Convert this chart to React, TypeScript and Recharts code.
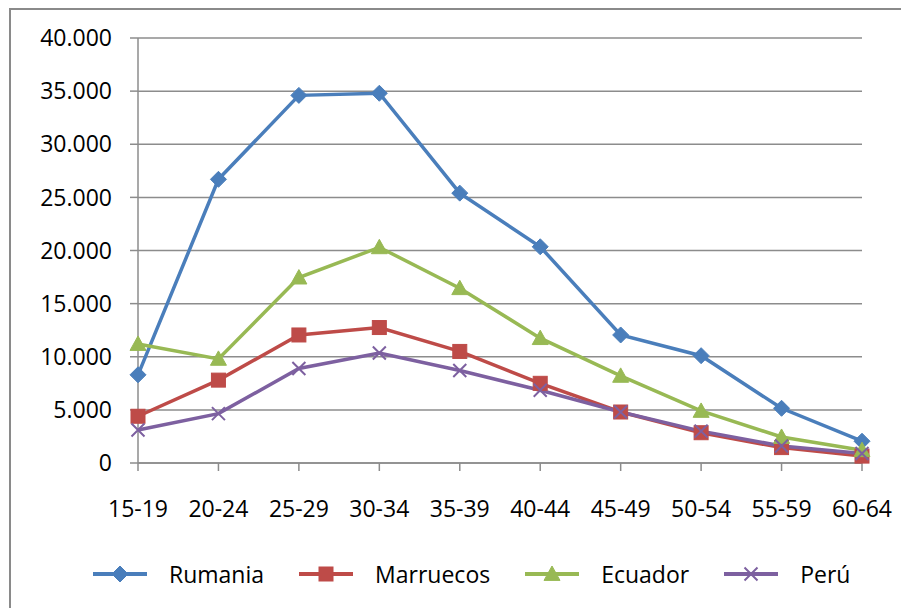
import React from 'react';
import { LineChart, Line, XAxis, YAxis, CartesianGrid, Legend } from 'recharts';

const categories = ['15-19', '20-24', '25-29', '30-34', '35-39', '40-44', '45-49', '50-54', '55-59', '60-64'];
const rumania = [8300, 26700, 34600, 34800, 25400, 20350, 12050, 10100, 5150, 2050];
const marruecos = [4400, 7800, 12050, 12750, 10500, 7500, 4800, 2850, 1450, 650];
const ecuador = [11200, 9800, 17450, 20300, 16450, 11750, 8200, 4900, 2450, 1200];
const peru = [3100, 4650, 8900, 10350, 8700, 6850, 4800, 3000, 1600, 900];
const yTicks = [0, 5000, 10000, 15000, 20000, 25000, 30000, 35000, 40000];

const seriesNames = ['Rumania', 'Marruecos', 'Ecuador', 'Perú'];
const seriesColors = ['#4A7EBB', '#BE4B48', '#98B954', '#7D60A0'];
const seriesShapes = ['diamond', 'square', 'triangle', 'cross'];

const data = categories.map((c, i) => ({
  cat: c,
  Rumania: rumania[i],
  Marruecos: marruecos[i],
  Ecuador: ecuador[i],
  'Perú': peru[i],
}));

const FONT = '"Open Sans", "Noto Sans", sans-serif';

function Marker({ shape, cx, cy, color }: { shape: string; cx: number; cy: number; color: string }) {
  if (cx == null || cy == null || isNaN(cx) || isNaN(cy)) return null;
  if (shape === 'diamond') {
    const r = 8;
    return <path d={`M${cx},${cy - r}L${cx + r},${cy}L${cx},${cy + r}L${cx - r},${cy}Z`} fill={color} stroke={color} strokeWidth={1} />;
  }
  if (shape === 'square') {
    const r = 7;
    return <rect x={cx - r} y={cy - r} width={2 * r} height={2 * r} fill={color} stroke={color} strokeWidth={1} />;
  }
  if (shape === 'triangle') {
    const r = 8;
    return <path d={`M${cx},${cy - r}L${cx + r},${cy + r * 0.8}L${cx - r},${cy + r * 0.8}Z`} fill={color} stroke={color} strokeWidth={1} />;
  }
  const r = 6.5;
  return (
    <path d={`M${cx - r},${cy - r}L${cx + r},${cy + r}M${cx + r},${cy - r}L${cx - r},${cy + r}`} stroke={color} strokeWidth={2} fill="none" />
  );
}

const fmt = (v: number) => (v === 0 ? '0' : v.toLocaleString('de-DE'));

function LegendContent() {
  return (
    <div style={{ display: 'flex', alignItems: 'center', fontFamily: FONT, fontSize: 23, color: '#000' }}>
      {seriesNames.map((n, i) => (
        <div key={n} style={{ display: 'flex', alignItems: 'center', marginRight: 35 }}>
          <svg width={54} height={24} style={{ display: 'block' }}>
            <line x1={0} y1={12} x2={54} y2={12} stroke={seriesColors[i]} strokeWidth={4} />
            <Marker shape={seriesShapes[i]} cx={27} cy={12} color={seriesColors[i]} />
          </svg>
          <span style={{ marginLeft: 22, lineHeight: '30px' }}>{n}</span>
        </div>
      ))}
    </div>
  );
}

export default function App() {
  return (
    <div style={{ position: 'relative', width: 901, height: 600, overflow: 'hidden', background: '#fff' }}>
      <div
        style={{
          position: 'absolute',
          left: 1,
          top: 0,
          width: 1000,
          height: 700,
          borderLeft: '2px solid #8a8a8a',
          borderTop: '2px solid #8a8a8a',
          boxSizing: 'border-box',
        }}
      />
      <div style={{ position: 'absolute', left: 0, top: 0 }}>
        <LineChart width={901} height={600} data={data} margin={{ top: 30, right: 47, left: 10, bottom: 0 }}>
          <CartesianGrid vertical={false} stroke="#8c8c8c" strokeWidth={1.5} />
          <XAxis
            dataKey="cat"
            axisLine={{ stroke: '#8c8c8c', strokeWidth: 1.5 }}
            tickLine={{ stroke: '#8c8c8c', strokeWidth: 1.5 }}
            tickSize={8}
            tickMargin={30}
            height={115}
            interval={0}
            tick={{ fontFamily: FONT, fontSize: 23, fill: '#000' }}
          />
          <YAxis
            domain={[0, 40000]}
            ticks={yTicks}
            tickFormatter={fmt}
            width={120}
            axisLine={{ stroke: '#8c8c8c', strokeWidth: 1.5 }}
            tickLine={{ stroke: '#8c8c8c', strokeWidth: 1.5 }}
            tickSize={8}
            tickMargin={18}
            interval={0}
            tick={{ fontFamily: FONT, fontSize: 23, fill: '#000' }}
          />
          <Legend
            content={<LegendContent />}
            wrapperStyle={{ position: 'absolute', top: 551, left: 85, width: 800 }}
          />
          {seriesNames.map((n, i) => (
            <Line
              key={n}
              type="linear"
              dataKey={n}
              stroke={seriesColors[i]}
              strokeWidth={3.5}
              isAnimationActive={false}
              dot={(p: any) => <Marker key={`${n}-${p.index}`} shape={seriesShapes[i]} cx={p.cx} cy={p.cy} color={seriesColors[i]} />}
              activeDot={false}
            />
          ))}
        </LineChart>
      </div>
    </div>
  );
}
